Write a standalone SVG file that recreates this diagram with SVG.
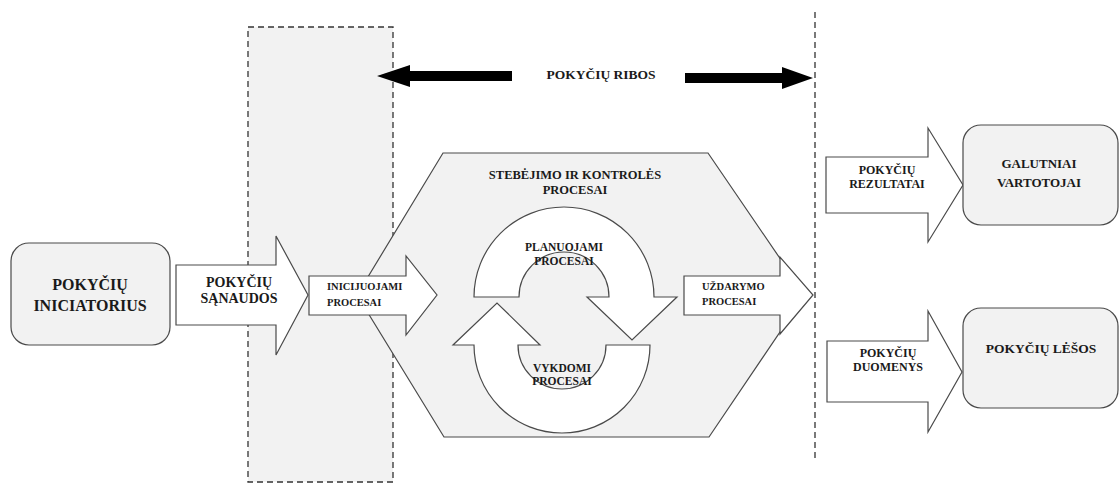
<svg xmlns="http://www.w3.org/2000/svg" width="1120" height="485" viewBox="0 0 1120 485">
<style>
text{font-family:'Liberation Serif','Times New Roman',serif;font-weight:bold;fill:#1a1a1a;text-anchor:middle}
.l{text-anchor:start}
.g{fill:#f2f2f2;stroke:#4a4a4a;stroke-width:1.2}
.w{fill:#ffffff;stroke:#4a4a4a;stroke-width:1.2}
.d{fill:none;stroke:#333;stroke-width:1.3;stroke-dasharray:6 4}
.k{fill:#000;stroke:none}
</style>
<rect width="1120" height="485" fill="#fff"/>
<g id="boundary">
<rect x="248" y="27" width="145" height="455" fill="#f2f2f2" stroke="none"/>
<rect x="248" y="27" width="145" height="455" class="d"/>
<line x1="815" y1="12" x2="815" y2="462" class="d"/>
</g>
<g id="monitoring">
<polygon class="g" points="443,153 708,153 805,295 709,437 444,437 357,295"/>
<text x="575" y="179" font-size="12.5">STEBĖJIMO IR KONTROLĖS</text>
<text x="575" y="194" font-size="12.5">PROCESAI</text>
</g>
<g id="connectors">
<polygon class="k" points="377,76 410,65 410,71 512,71 512,81 410,81 410,87"/>
<polygon class="k" points="813,78 782,67 782,73 685,73 685,83 782,83 782,89"/>
</g>
<g id="ribos"><text x="601" y="79" font-size="13.5">POKYČIŲ RIBOS</text></g>
<g id="iniciatorius">
<rect class="g" x="11" y="243" width="159" height="102" rx="18"/>
<text x="90" y="290" font-size="16">POKYČIŲ</text>
<text x="90" y="311" font-size="16">INICIATORIUS</text>
</g>
<g id="sanaudos">
<polygon class="w" points="176,265 276,265 276,236 308,295 276,355 276,325 176,325"/>
<text x="239" y="287" font-size="14">POKYČIŲ</text>
<text x="239" y="303" font-size="14">SĄNAUDOS</text>
</g>
<g id="inicijuojami">
<polygon class="w" points="309,276 406,276 406,256 437,295 406,335 406,315 309,315"/>
<text class="l" x="327" y="290" font-size="10.5">INICIJUOJAMI</text>
<text class="l" x="327" y="306" font-size="10.5">PROCESAI</text>
</g>
<g id="planuojami">
<path class="w" d="M474 297 A90 90 0 0 1 654 297 L677 297 L632 340 L587 297 L609 297 A45 45 0 0 0 519 297 Z"/>
<text x="564" y="251" font-size="11.5">PLANUOJAMI</text>
<text x="564" y="265" font-size="11.5">PROCESAI</text>
</g>
<g id="vykdomi">
<path class="w" d="M650 345 A88 88 0 0 1 474 345 L453 345 L497 303 L540 345 L518 345 A44 44 0 0 0 606 345 Z"/>
<text x="562" y="372" font-size="11.5">VYKDOMI</text>
<text x="562" y="385" font-size="11.5">PROCESAI</text>
</g>
<g id="uzdarymo">
<polygon class="w" points="684,276 780,276 780,257 813,295 780,334 780,315 684,315"/>
<text class="l" x="702" y="290" font-size="10.5">UŽDARYMO</text>
<text class="l" x="702" y="305" font-size="10.5">PROCESAI</text>
</g>
<g id="rezultatai">
<polygon class="w" points="826,157 928,157 928,128 963,185 928,242 928,213 826,213"/>
<text x="887" y="174" font-size="12">POKYČIŲ</text>
<text x="887" y="188" font-size="12">REZULTATAI</text>
</g>
<g id="vartotojai">
<rect class="g" x="963" y="125" width="155" height="100" rx="18"/>
<text x="1039" y="168" font-size="13">GALUTNIAI</text>
<text x="1039" y="187" font-size="13">VARTOTOJAI</text>
</g>
<g id="duomenys">
<polygon class="w" points="827,341 928,341 928,311 962,372 928,432 928,402 827,402"/>
<text x="888" y="357" font-size="12">POKYČIŲ</text>
<text x="888" y="371" font-size="12">DUOMENYS</text>
</g>
<g id="lesos">
<rect class="g" x="963" y="308" width="155" height="100" rx="18"/>
<text x="1041" y="353" font-size="13.5">POKYČIŲ LĖŠOS</text>
</g>
</svg>
